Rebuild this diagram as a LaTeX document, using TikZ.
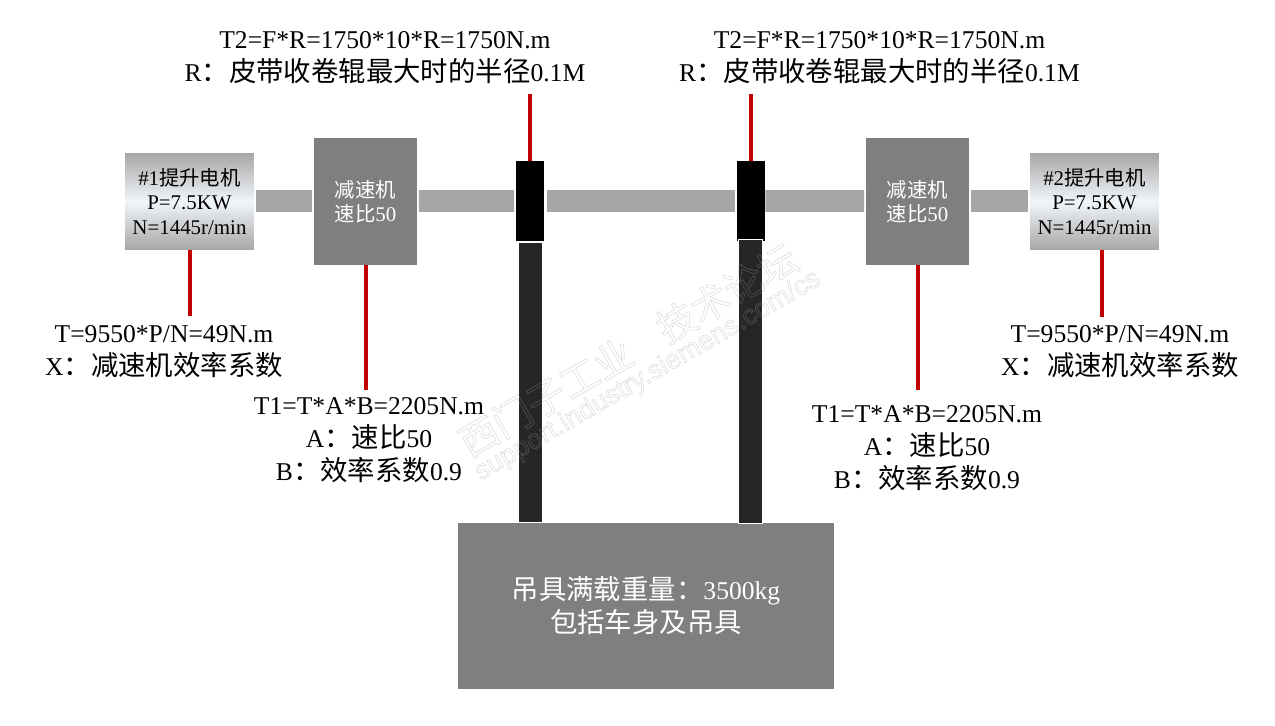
\documentclass[tikz,border=0pt]{standalone}
\usepackage{fontspec}
\usepackage{xcolor}
\usepackage{tikz}
\usetikzlibrary{arrows.meta, positioning, calc, shapes}
\setmainfont{Liberation Serif}
\newfontfamily\cjk[Scale=1.07]{Noto Sans CJK SC}
\newfontfamily\cjksmall[Scale=0.975]{Noto Sans CJK SC}
\newfontfamily\cjkmark{Noto Sans CJK SC}
\newfontfamily\markfont{Liberation Sans}
\newcommand{\zh}[1]{{\cjk #1}}
\newcommand{\zhs}[1]{{\cjksmall #1}}
\newcommand{\bigtxt}{\fontsize{14.57}{18.8}\selectfont}
\newcommand{\smalltxt}{\fontsize{11.9}{14.2}\selectfont}
\newcommand{\outlined}[1]{\special{pdf:code 1 Tr 0.35 w}#1\special{pdf:code 0 Tr}}
\definecolor{boxgray}{HTML}{7F7F7F}
\definecolor{shaftgray}{HTML}{A6A6A6}
\definecolor{rodblack}{HTML}{262626}
\definecolor{leadred}{HTML}{C00000}
\definecolor{motormid}{HTML}{F2F6FA}
\definecolor{markgray}{HTML}{A0A0A0}

\begin{document}
\begin{tikzpicture}[x=0.02cm, y=-0.02cm,
    motor/.style={inner sep=0pt, minimum width=2.58cm, minimum height=1.94cm, top color=shaftgray, bottom color=shaftgray, middle color=motormid, align=center, font=\smalltxt},
    gear/.style={inner sep=0pt, minimum width=2.06cm, minimum height=2.54cm, fill=boxgray, text=white, align=center, font=\smalltxt},
    block/.style={inner sep=0pt, minimum width=0.56cm, minimum height=1.6cm, fill=black},
    rod/.style={inner sep=0pt, minimum width=0.48cm, fill=rodblack, draw=white, line width=0.5pt},
    shaft/.style={shaftgray, line width=0.44cm, shorten <=0.03cm, shorten >=0.03cm},
    leader/.style={leadred, line width=0.08cm},
    note/.style={align=center, font=\bigtxt, inner sep=0pt},
    watermark/.style={rotate=30, text=markgray, opacity=0.36, inner sep=0pt}]
    \useasboundingbox (0, 0) rectangle (1275, 726);

    % 电机和减速机
    \node[motor] (motorA) at (189.5, 201.5) {\#1\zhs{提升电机}\\P=7.5KW\\N=1445r/min};
    \node[gear] (gearA) at (365.5, 201.5) {\zhs{减速机}\\[-0.5pt]\zhs{速比}50};
    \node[gear] (gearB) at (917.5, 201.5) {\zhs{减速机}\\[-0.5pt]\zhs{速比}50};
    \node[motor] (motorB) at (1094.5, 201.5) {\#2\zhs{提升电机}\\P=7.5KW\\N=1445r/min};

    % 卷筒
    \node[block] (blockA) at (530, 201) {};
    \node[block] (blockB) at (751, 201) {};

    % 传动轴
    \draw[shaft] ([yshift=0.01cm]motorA.east) -- ([yshift=0.01cm]gearA.west);
    \draw[shaft] ([yshift=0.01cm]gearA.east) -- (blockA.west);
    \draw[shaft, shorten <=0.06cm] (blockA.east) -- (blockB.west);
    \draw[shaft, shorten <=0pt] (blockB.east) -- ([yshift=0.01cm]gearB.west);
    \draw[shaft] ([yshift=0.01cm]gearB.east) -- ([yshift=0.01cm]motorB.west);

    % 吊具和皮带
    \node[inner sep=0pt, minimum width=7.52cm, minimum height=3.32cm, fill=boxgray, text=white, align=center, font=\bigtxt] (load) at (646, 606)
        {\zh{吊具满载重量：}3500kg\\\zh{包括车身及吊具}};
    \node[rod, minimum height=5.6cm] (rodA) at (530, 382) {};
    \node[rod, minimum height=5.68cm] (rodB) at (750, 381) {};

    % 说明文字
    \node[note] (noteTopA) at (385, 57.5) {T2=F*R=1750*10*R=1750N.m\\R\zh{：皮带收卷辊最大时的半径}0.1M};
    \node[note] (noteTopB) at (879.5, 57.5) {T2=F*R=1750*10*R=1750N.m\\R\zh{：皮带收卷辊最大时的半径}0.1M};
    \node[note] (noteMotorA) at (164, 352) {T=9550*P/N=49N.m\\X\zh{：减速机效率系数}};
    \node[note] (noteMotorB) at (1120, 352) {T=9550*P/N=49N.m\\X\zh{：减速机效率系数}};
    \node[note] (noteGearA) at (369, 440) {T1=T*A*B=2205N.m\\A\zh{：速比}50\\B\zh{：效率系数}0.9};
    \node[note] (noteGearB) at (927, 448) {T1=T*A*B=2205N.m\\A\zh{：速比}50\\B\zh{：效率系数}0.9};

    % 红色引线
    \coordinate (topEndA) at (530, 94);
    \coordinate (topEndB) at (751, 94);
    \coordinate (motorEndA) at (189.5, 316);
    \coordinate (gearEndA) at (365.5, 390);
    \coordinate (gearEndB) at (917.5, 390);
    \coordinate (motorStartB) at (1102, 250);
    \coordinate (motorEndB) at (1102, 317);
    \draw[leader] (topEndA) -- (blockA.north);
    \draw[leader] (topEndB) -- (blockB.north);
    \draw[leader] (motorA.south) -- (motorEndA);
    \draw[leader] (gearA.south) -- (gearEndA);
    \draw[leader] (gearB.south) -- (gearEndB);
    \draw[leader] (motorStartB) -- (motorEndB);

    % 水印
    \node[watermark, font=\cjkmark\fontsize{22}{22}\selectfont] (markA) at (628, 350) {\outlined{西门子工业\hspace{0.9em}技术论坛}};
    \node[watermark, font=\markfont\fontsize{15.5}{15.5}\selectfont] (markB) at (648, 376) {\outlined{support.industry.siemens.com/cs}};
\end{tikzpicture}
\end{document}
